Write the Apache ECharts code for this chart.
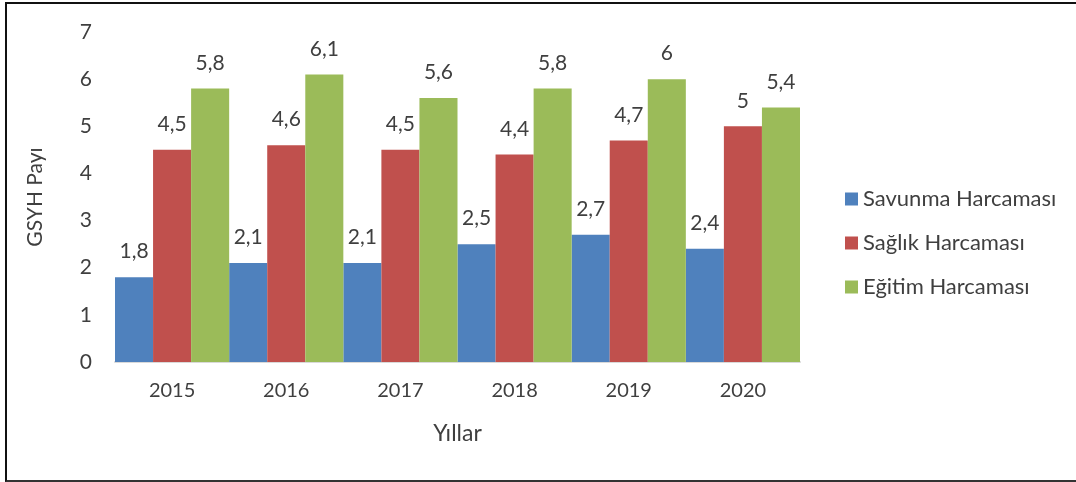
<!DOCTYPE html>
<html><head><meta charset="utf-8">
<script src="https://cdn.jsdelivr.net/npm/echarts@6/dist/echarts.min.js"></script>
<style>
html,body{margin:0;padding:0;background:#fff;overflow:hidden;}
#frame{position:absolute;left:5px;top:2px;width:1100px;height:476px;border-left:2px solid #111;border-top:2px solid #111;border-bottom:2px solid #333;box-sizing:content-box;}
#c{position:absolute;left:0;top:0;width:1076px;height:482px;}
</style></head>
<body>
<div id="frame"></div>
<div id="c"></div>
<script>
const years = ['2015','2016','2017','2018','2019','2020'];
const savunma = [1.8, 2.1, 2.1, 2.5, 2.7, 2.4];
const saglik = [4.5, 4.6, 4.5, 4.4, 4.7, 5.0];
const egitim = [5.8, 6.1, 5.6, 5.8, 6.0, 5.4];
const seriesNames = ['Savunma Harcaması','Sağlık Harcaması','Eğitim Harcaması'];
const colors = ['#4F81BD','#C0504D','#9BBB59'];

const chart = echarts.init(document.getElementById('c'), null, {renderer:'canvas'});
const fontFamily = 'Lato, "Open Sans", sans-serif';
const txt = '#3f3f3f';
function mk(name, data, color){
  return {
    name, type:'bar', data, barGap:'0%', barCategoryGap:'0%',
    itemStyle:{color},
    label:{show:true, position:'top', distance:15, color:txt, fontSize:21, fontFamily,
      formatter:p=>String(p.value).replace('.',',')}
  };
}
chart.setOption({
  animation:false,
  color:colors,
  textStyle:{fontFamily},
  grid:{left:115, right:276, top:32, bottom:120, containLabel:false},
  legend:{
    orient:'vertical', left:840, top:183, itemGap:22, itemWidth:13, itemHeight:13,
    icon:'rect', textStyle:{fontSize:22, color:txt, fontFamily}, data:seriesNames
  },
  xAxis:{
    type:'category', data:years,
    name:'Yıllar', nameLocation:'middle', nameGap:60,
    nameTextStyle:{fontSize:23, color:txt, fontFamily},
    axisLine:{show:true, lineStyle:{color:'#d9d9d9', width:2}},
    axisTick:{show:false},
    axisLabel:{fontSize:20, color:txt, margin:19, fontFamily}
  },
  yAxis:{
    type:'value', min:0, max:7, interval:1,
    name:'GSYH Payı', nameLocation:'middle', nameGap:69, nameRotate:90,
    nameTextStyle:{fontSize:21, color:txt, fontFamily},
    axisLine:{show:false}, axisTick:{show:false}, splitLine:{show:false},
    axisLabel:{fontSize:21, color:txt, margin:23, fontFamily}
  },
  series:[mk(seriesNames[0], savunma, colors[0]), mk(seriesNames[1], saglik, colors[1]), mk(seriesNames[2], egitim, colors[2])]
});
</script>
</body></html>
